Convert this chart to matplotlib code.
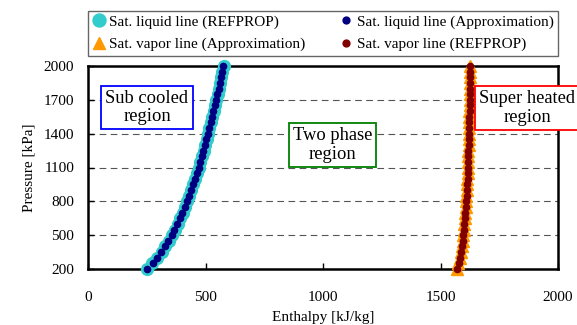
import matplotlib
matplotlib.use("Agg")
import matplotlib.pyplot as plt

plt.rcParams['font.family'] = ['Liberation Serif', 'DejaVu Serif']

pressure = [200, 250, 300, 350, 400, 450, 500, 550, 600, 650, 700, 750, 800, 850, 900,
            950, 1000, 1050, 1100, 1150, 1200, 1250, 1300, 1350, 1400, 1450, 1500, 1550,
            1600, 1650, 1700, 1750, 1800, 1850, 1900, 1950, 2000]
liq_refprop = [250, 274, 295, 313, 328, 343, 356, 369, 381, 392, 403, 412, 422, 431, 440,
               448, 456, 464, 471, 478, 485, 492, 498, 505, 511, 517, 523, 529, 535, 541,
               546, 552, 557, 562, 567, 572, 577]
liq_approx = [251, 275, 295, 312, 328, 342, 356, 368, 380, 392, 402, 412, 421, 430, 439,
              448, 456, 463, 471, 478, 485, 491, 498, 504, 511, 517, 523, 529, 534, 540,
              546, 551, 556, 562, 567, 572, 576]
vap_approx = [1570, 1576, 1582, 1587, 1590, 1594, 1596, 1599, 1601, 1604, 1606, 1607, 1609,
              1610, 1612, 1613, 1614, 1615, 1616, 1617, 1618, 1619, 1620, 1620, 1621, 1622,
              1622, 1623, 1623, 1624, 1624, 1625, 1625, 1625, 1626, 1626, 1626]
vap_refprop = [1572, 1578, 1583, 1587, 1591, 1594, 1597, 1599, 1602, 1604, 1606, 1608, 1609,
               1611, 1612, 1613, 1615, 1616, 1617, 1618, 1619, 1619, 1620, 1621, 1622, 1622,
               1623, 1623, 1624, 1624, 1625, 1625, 1626, 1626, 1626, 1627, 1627]

x_ticks = [0, 500, 1000, 1500, 2000]
y_ticks = [200, 500, 800, 1100, 1400, 1700, 2000]

fig = plt.figure(figsize=(5.77, 3.25), dpi=100)
ax = fig.add_axes([88/577, 1-269/325, 470/577, 203/325])

h1, = ax.plot(liq_refprop, pressure, 'o', color='#33CCCC', ms=8.5, mec='#33CCCC',
              clip_on=False, zorder=3, label='Sat. liquid line (REFPROP)')
h3, = ax.plot(vap_approx, pressure, '^', color='#FF9900', ms=8.5, mec='#FF9900',
              clip_on=False, zorder=3, label='Sat. vapor line (Approximation)')
h2, = ax.plot(liq_approx, pressure, 'o', color='#000080', ms=4.5, mec='#000080',
              clip_on=False, zorder=4, label='Sat. liquid line (Approximation)')
h4, = ax.plot(vap_refprop, pressure, 'o', color='#800000', ms=4.5, mec='#800000',
              clip_on=False, zorder=4, label='Sat. vapor line (REFPROP)')

ax.set_xlim(0, 2000)
ax.set_ylim(200, 2000)
ax.set_xticks(x_ticks)
ax.set_yticks(y_ticks)
ax.tick_params(direction='in', length=4, width=1, labelsize=11)
ax.tick_params(axis='x', pad=16)
ax.tick_params(axis='y', pad=10)
for s in ax.spines.values():
    s.set_linewidth(1.8)
    s.set_color('black')
ax.yaxis.grid(True, linestyle=(0, (6, 4)), color='#555555', linewidth=0.8)
ax.set_axisbelow(True)

ax.set_xlabel('Enthalpy [kJ/kg]', fontsize=11, labelpad=5)
ax.set_ylabel('Pressure [kPa]', fontsize=11, labelpad=6)

leg = ax.legend(handles=[h1, h3, h2, h4], ncol=2, loc='lower left',
                bbox_to_anchor=(0, 1.05, 1, 0.2), mode='expand', fontsize=11,
                frameon=True, fancybox=False, edgecolor='#404040', borderpad=0.3,
                handlelength=0.8, handletextpad=0.3, labelspacing=0.55,
                borderaxespad=0, columnspacing=1.0, markerscale=1.1)
leg.get_frame().set_linewidth(1.0)

box_fs = 13.3
ax.text(251, 1632, 'Sub cooled\nregion', fontsize=box_fs, ha='center', va='center',
        linespacing=1.1,
        bbox=dict(boxstyle='square,pad=0.22', fc='white', ec='blue', lw=1.3), zorder=5)
ax.text(1040, 1299, 'Two phase\nregion', fontsize=box_fs, ha='center', va='center',
        linespacing=1.1,
        bbox=dict(boxstyle='square,pad=0.22', fc='white', ec='green', lw=1.3), zorder=5)
ax.text(1870, 1628, 'Super heated\nregion', fontsize=box_fs, ha='center', va='center',
        linespacing=1.1, clip_on=False,
        bbox=dict(boxstyle='square,pad=0.22', fc='white', ec='red', lw=1.3), zorder=5)

fig.savefig('out.png', dpi=100)
